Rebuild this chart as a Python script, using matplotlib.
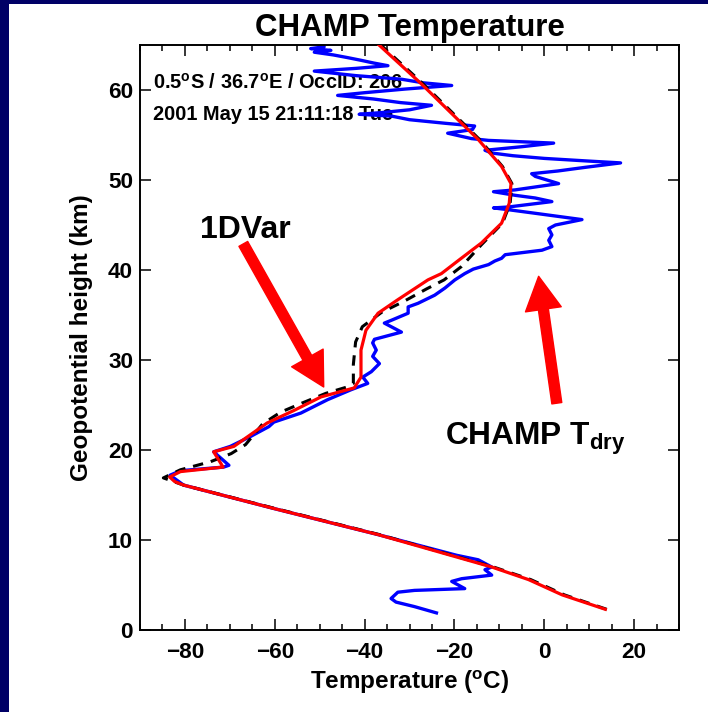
import matplotlib
matplotlib.use('Agg')
import matplotlib.pyplot as plt
from matplotlib.patches import FancyArrowPatch, Rectangle, ArrowStyle
from matplotlib.ticker import MultipleLocator

plt.rcParams['font.family'] = ['Liberation Sans', 'DejaVu Sans']
plt.rcParams['font.weight'] = 'bold'
plt.rcParams['mathtext.fontset'] = 'custom'
plt.rcParams['mathtext.rm'] = 'Liberation Sans:bold'
plt.rcParams['mathtext.bf'] = 'Liberation Sans:bold'
plt.rcParams['mathtext.it'] = 'Liberation Sans:bold'

# ---------------- data ----------------
# CHAMP dry temperature profile (blue)
tdry_height = [1.9, 2.6, 3.1, 3.5, 4.2, 4.4, 4.6, 5.4, 5.7, 6.1, 6.7, 7.0, 7.8, 8.3,
               10.6, 13.5, 16.1, 17.2, 17.7, 18.1, 18.3, 19.8, 20.4, 21.5, 22.6, 23.1,
               24.1, 25.6, 26.7, 27.4, 28.1, 28.7, 29.6, 30.4, 31.1, 31.9, 32.3, 33.1,
               34.1, 34.4, 35.2, 35.9, 36.3, 37.2, 38.0, 38.9, 39.6, 40.1, 40.6, 41.0,
               41.3, 41.7, 42.2, 42.6, 43.3, 43.9, 44.6, 45.0, 45.6, 46.3, 46.7, 46.9,
               47.0, 47.6, 48.0, 48.3, 48.7, 48.9, 49.6, 50.4, 50.7, 51.0, 51.4, 51.9,
               52.1, 52.4, 52.7, 53.0, 53.3, 53.7, 54.1, 54.4, 54.6, 55.2, 55.6, 56.0,
               56.3, 56.7, 57.1, 57.3, 57.5, 57.8, 58.3, 58.6, 59.0, 59.4, 59.7, 60.1,
               60.5, 60.8, 61.2, 61.6, 62.1, 62.4, 62.7, 63.0, 63.3, 63.6, 63.9, 64.2,
               64.4, 64.6, 64.8, 65.2]
tdry_temp = [-24.0, -28.9, -33.0, -34.1, -32.6, -28.9, -17.7, -20.6, -18.4, -11.7, -13.2, -11.7, -14.7, -19.5,
             -37.0, -60.2, -80.3, -83.3, -81.0, -71.4, -70.2, -73.6, -69.9, -65.4, -61.3, -60.2,
             -54.2, -48.2, -43.0, -39.3, -40.4, -38.5, -36.7, -38.2, -37.4, -38.2, -37.8, -31.8,
             -35.6, -34.1, -30.3, -30.3, -28.1, -24.4, -22.1, -19.9, -17.7, -15.8, -12.4, -11.0,
             -9.5, -8.7, -0.5, 1.7, 1.0, 1.7, 1.0, 2.5, 8.4, -2.0, -8.0, -11.3,
             -8.0, 1.7, -2.0, -6.5, -11.3, -6.5, 3.2, -2.0, -2.8, 3.0, 9.0, 17.0,
             10.0, 0.0, -7.0, -11.7, -13.2, -5.0, 2.1, -12.4, -16.2, -21.5, -16.0, -15.5,
             -22.0, -30.0, -34.0, -41.2, -36.0, -30.0, -25.1, -32.0, -38.0, -46.0, -40.0, -31.1,
             -20.6, -27.0, -31.8, -42.0, -51.2, -42.0, -34.8, -38.0, -40.8, -43.8, -47.0, -51.2,
             -47.5, -52.0, -49.0, -50.5]

# 1DVar retrieval (red)
var1d_height = [2.3, 3.9, 5.6, 7.0, 10.6, 13.5, 16.1, 16.5, 17.0, 17.6, 18.1, 19.8, 20.4,
                21.7, 23.0, 24.4, 25.9, 26.9, 28.1, 31.1, 33.3, 35.2, 36.7, 38.9, 39.6,
                41.1, 43.0, 45.2, 47.4, 49.6, 51.5, 54.5, 60.7, 65.1]
var1d_temp = [13.6, 4.0, -3.5, -11.7, -37.0, -60.2, -80.3, -82.3, -83.4, -81.0, -71.5, -73.6, -69.1,
              -65.4, -61.7, -55.7, -49.7, -42.3, -40.8, -40.8, -39.7, -37.0, -32.6, -25.9, -22.9,
              -19.0, -14.0, -9.5, -7.8, -7.4, -9.5, -14.7, -27.4, -37.0]

# background / first guess (black dashed)
bg_height = [2.3, 3.9, 5.6, 7.0, 10.6, 13.5, 16.1, 16.9, 17.8, 18.7, 19.6, 20.6, 21.8,
             22.9, 24.2, 25.2, 26.3, 27.0, 27.4, 29.5, 32.0, 33.7, 35.3, 36.5, 37.9,
             38.9, 40.4, 42.8, 45.2, 47.4, 49.6, 51.5, 54.5, 60.7, 65.1]
bg_temp = [13.9, 4.5, -3.0, -11.3, -36.7, -59.9, -80.3, -84.8, -81.0, -74.3, -69.7, -66.5, -64.5,
           -62.7, -58.7, -54.0, -48.6, -43.9, -42.5, -42.5, -42.0, -40.5, -36.2, -31.3, -26.2,
           -22.3, -18.4, -14.0, -9.3, -7.6, -7.2, -9.3, -14.4, -27.0, -36.6]

x_major_ticks = [-80, -60, -40, -20, 0, 20]
y_major_ticks = [0, 10, 20, 30, 40, 50, 60]

info_line1 = "0.5$^{\\rm o}$S / 36.7$^{\\rm o}$E / OccID: 206"
info_line2 = "2001 May 15 21:11:18 Tue"

# ---------------- figure ----------------
W, H = 708, 712
fig = plt.figure(figsize=(W / 100, H / 100), dpi=100)
fig.patch.set_facecolor('white')
navy = '#000066'
fig.add_artist(Rectangle((0, 0), 9 / W, 1, transform=fig.transFigure,
                         facecolor=navy, edgecolor='none', zorder=0))
fig.add_artist(Rectangle((0, 1 - 4 / H), 1, 4 / H, transform=fig.transFigure,
                         facecolor=navy, edgecolor='none', zorder=0))

ax = fig.add_axes([140 / W, 82 / H, 539 / W, 585 / H])

ax.plot(tdry_temp, tdry_height, color='#0000ff', lw=2.4, zorder=2)
ax.plot(bg_temp, bg_height, color='black', lw=2.2, linestyle=(0, (3.4, 2.6)), zorder=3)
ax.plot(var1d_temp, var1d_height, color='#ff0000', lw=2.3, zorder=4)

ax.set_xlim(-90, 30)
ax.set_ylim(0, 65)
ax.set_xticks(x_major_ticks)
ax.set_yticks(y_major_ticks)
ax.xaxis.set_minor_locator(MultipleLocator(5))
ax.tick_params(axis='both', which='both', direction='in', top=True, right=True,
               width=1.1, labelsize=16.2)
ax.tick_params(axis='both', which='major', length=8)
ax.tick_params(axis='both', which='minor', length=4.3)
ax.tick_params(axis='x', which='major', pad=9)
ax.tick_params(axis='y', which='major', pad=5)
for s in ax.spines.values():
    s.set_linewidth(1.4)

ax.set_title('CHAMP Temperature', fontsize=22.5, fontweight='bold', pad=6.5)
ax.set_xlabel('Temperature ($^{\\rm o}$C)', fontsize=17.5, fontweight='bold')
ax.set_ylabel('Geopotential height (km)', fontsize=17.5, fontweight='bold')
ax.xaxis.set_label_coords(0.5, -0.066)
ax.yaxis.set_label_coords(-0.087, 0.5)

ax.text(0.024, 0.926, info_line1, transform=ax.transAxes, fontsize=14.4,
        fontweight='bold', va='baseline', ha='left', zorder=1.5)
ax.text(0.024, 0.8726, info_line2, transform=ax.transAxes, fontsize=14.4,
        fontweight='bold', va='baseline', ha='left', zorder=1.5)

ax.text(-76.7, 43.6, '1DVar', fontsize=23, fontweight='bold', va='baseline', ha='left')
ax.text(-22.2, 20.6, 'CHAMP T$_{\\rm dry}$', fontsize=22.8, fontweight='bold',
        va='baseline', ha='left')

style = ArrowStyle.Simple(head_length=24, head_width=26, tail_width=7.2)
a1 = FancyArrowPatch((-67.0, 42.9), (-49.1, 27.0), arrowstyle=style, mutation_scale=1,
                     color='#ff0000', shrinkA=0, shrinkB=0, zorder=5)
a2 = FancyArrowPatch((2.8, 25.2), (-1.25, 39.3), arrowstyle=style, mutation_scale=1,
                     color='#ff0000', shrinkA=0, shrinkB=0, zorder=5)
ax.add_patch(a1)
ax.add_patch(a2)

fig.savefig('out.png', dpi=100, facecolor=fig.get_facecolor())
